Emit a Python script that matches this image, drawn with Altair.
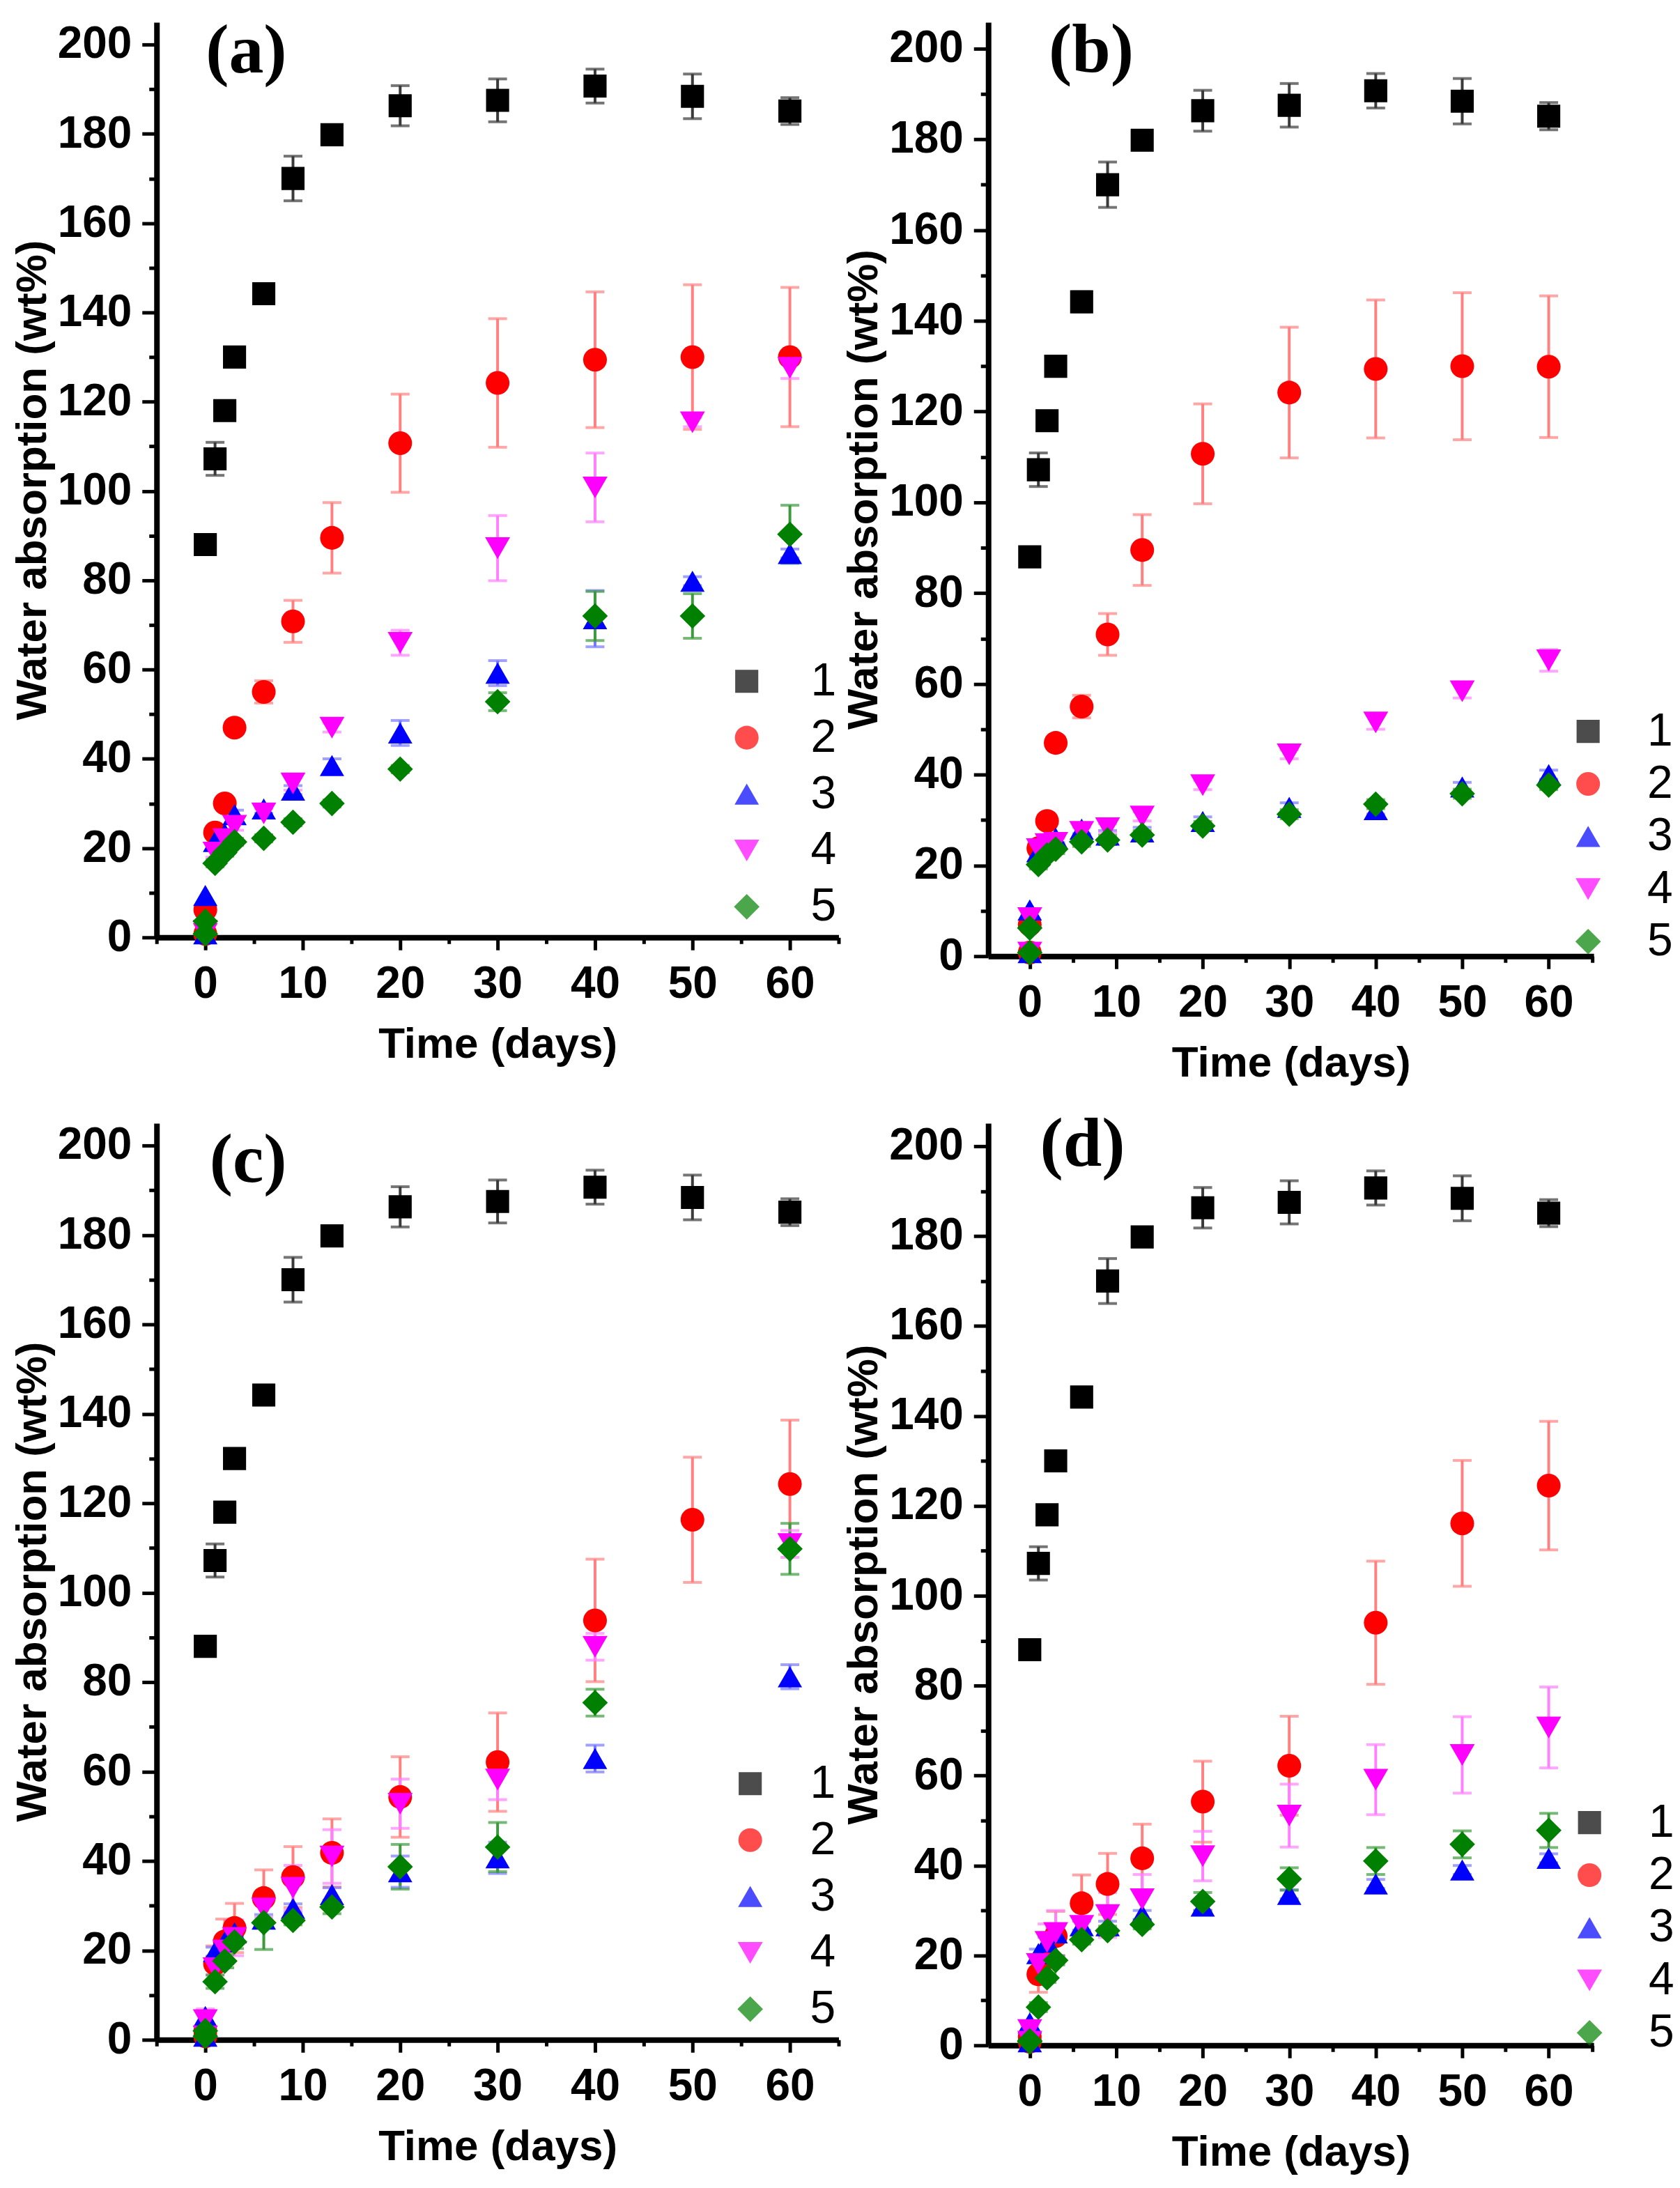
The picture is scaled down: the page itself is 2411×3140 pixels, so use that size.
import altair as alt
import pandas as pd

# ---------------- data ----------------
TIMES = [0, 1, 2, 3, 6, 9, 13, 20, 30, 40, 50, 60]
SERIES = ["1", "2", "3", "4", "5"]
COLORS = ["#000000", "#FF0000", "#0000FF", "#FF00FF", "#008000"]
ERR_COLORS = ["#3A3A3A", "#FF8080", "#7878FF", "#FF80FF", "#3C9A3C"]
SHAPES = ["square", "circle", "triangle-up", "triangle-down", "diamond"]
SIZES = [1100, 1350, 1850, 1850, 2000]

X_MAJOR = [0, 10, 20, 30, 40, 50, 60]
Y_MAJOR = [0, 20, 40, 60, 80, 100, 120, 140, 160, 180, 200]
Y_MINOR = [10, 30, 50, 70, 90, 110, 130, 150, 170, 190]

# series 1 (same in every panel)
S1 = [88, 107.2, 118, 130, 144.2, 170, 179.8, 186.3, 187.5, 190.7, 188.4, 185.1]
S1_ERR = [0, 3.7, 0.8, 0.8, 2.2, 5, 0.8, 4.5, 4.8, 3.8, 5, 3]

# second reading at day 0 for series 2-5
ZERO2 = [0.8, 0.8, 0.8, 0.8]

# panel (a)
A2 = [6.2, 23.5, 30, 47, 55, 70.8, 89.5, 110.7, 124.2, 129.4, 130, 130]
A2_ERR = [0, 1, 1, 1, 2.5, 4.7, 7.9, 11, 14.4, 15.2, 16.2, 15.6]
A3 = [9.4, 21.5, 23.2, 27.5, 28.8, 33, 38.5, 45.8, 59.2, 71.4, 79.8, 86]
A3_ERR = [0, 1, 1, 1, 1, 1, 1.5, 2.8, 2.8, 6.3, 1, 1]
A4 = [1.5, 19, 22, 25, 27.8, 34.5, 47, 66, 87.2, 100.8, 115.4, 127.6]
A4_ERR = [0, 1, 1, 1, 1, 1.5, 1, 2.8, 7.3, 7.7, 1, 2.4]
A5 = [3.6, 16.6, 19, 21.4, 22.2, 25.8, 30, 37.7, 52.8, 72, 72, 90.3]
A5_ERR = [0, 0.8, 0.8, 0.8, 0.8, 0.8, 0.8, 0.8, 2, 5.5, 5, 6.5]

# panel (b)
B2 = [7, 23.8, 29.8, 47, 55, 70.9, 89.5, 110.7, 124.2, 129.4, 130, 129.9]
B2_ERR = [0, 1, 1, 1, 2.5, 4.6, 7.8, 11, 14.4, 15.2, 16.2, 15.6]
B3 = [10.2, 23, 24, 26, 28, 26.7, 27.4, 29.7, 32.8, 32.3, 37.3, 40]
B3_ERR = [0, 1, 1, 1, 1, 1, 1, 1, 1, 1, 1, 1]
B4 = [8.4, 23.6, 24.7, 25, 27.4, 28.2, 30.8, 37.7, 44.5, 51.5, 58.4, 65.2]
B4_ERR = [0, 1, 1, 1, 1, 1, 1, 1, 1, 1.5, 1.5, 2.4]
B5 = [6.2, 20.2, 22.3, 23.6, 25.2, 25.6, 26.7, 28.7, 31.3, 33.5, 35.8, 37.7]
B5_ERR = [0, 1, 1, 1, 1, 1, 1, 1, 1, 1, 1, 1]

# panel (c)
C2 = [2, 17, 22, 25, 31.7, 36.4, 41.8, 54.3, 62.1, 93.8, 116.3, 124.3]
C2_ERR = [0, 4, 5, 5.5, 6.3, 6.8, 7.6, 9, 11, 13.7, 14, 14.3]
C3 = [5.2, 19.7, 21.9, 23.9, 27, 29.4, 32.5, 37.6, 40.7, 62.9, None, 81.2]
C3_ERR = [0, 1, 1, 1, 1, 1, 1.5, 3.5, 3.5, 3, 0, 2.7]
C4 = [4.4, 16, 20, 22.8, 29.4, 34, 41, 52.8, 58.2, 87.9, None, 110.9]
C4_ERR = [2.5, 1.5, 2, 4, 2, 5, 6, 5.5, 4.5, 3, 0, 3]
C5 = [2, 13, 17.6, 21.9, 26.2, 26.7, 29.7, 38.7, 43.1, 75.4, None, 109.8]
C5_ERR = [0, 1.5, 1.5, 1.5, 6, 1, 1.5, 5, 5.5, 3, 0, 5.7]

# panel (d)
D2 = [1.9, 15.8, 19.5, 24.3, 31.6, 35.9, 41.6, 54.2, 62.2, 94, 116.1, 124.5]
D2_ERR = [0, 4, 5, 5.5, 6.3, 6.8, 7.6, 9, 11, 13.7, 14, 14.3]
D3 = [5, 20.4, 23, 25, 26.6, 26.6, 29, 31, 33.6, 35.9, 39, 41.6]
D3_ERR = [0, 1, 1, 1, 1, 1, 1, 1, 1, 1, 1, 1]
D4 = [3.4, 18.1, 23, 25, 26.6, 29, 32.5, 42.1, 51.1, 59.1, 64.6, 70.7]
D4_ERR = [1, 1.5, 4, 5, 2, 5, 5.5, 5.5, 7, 7.8, 8.5, 9]
D5 = [1, 8.5, 15, 18.9, 23.5, 25.5, 26.9, 32, 37, 41, 44.7, 47.8]
D5_ERR = [0, 1, 1, 1, 1, 1, 1, 2, 2.5, 3, 3, 3.8]

FONT = "Liberation Sans"


def panel(vals, errs, label, lab_t, lab_v, xdom, ytop, xminor, w, h, lx, ly, rowpad, laboff):
    rows, caps = [], []
    for k, (sv, se) in enumerate(zip(vals, errs)):
        for t, v, e in zip(TIMES, sv, se):
            if v is None:
                continue
            rows.append(dict(t=t, v=v, lo=v - e, hi=v + e, series=SERIES[k],
                             ecolor=ERR_COLORS[k], k=k))
            if e > 0:
                caps.append(dict(t=t, v=v - e, ecolor=ERR_COLORS[k]))
                caps.append(dict(t=t, v=v + e, ecolor=ERR_COLORS[k]))
        if k > 0:
            z = ZERO2[k - 1]
            rows.append(dict(t=0, v=z, lo=z, hi=z, series=SERIES[k],
                             ecolor=ERR_COLORS[k], k=k))
    df = pd.DataFrame(rows).sort_values("k", kind="stable")
    dcaps = pd.DataFrame(caps)
    dlab = pd.DataFrame([dict(t=lab_t, v=lab_v, label=label)])

    xs = alt.Scale(domain=xdom, nice=False, zero=False, padding=0)
    ys = alt.Scale(domain=[0, ytop], nice=False, zero=False, padding=0)

    leg = alt.Legend(orient="none", legendX=lx, legendY=ly, title=None,
                     labelFontSize=66, labelFont=FONT, labelFontWeight="normal",
                     labelColor="black", symbolSize=1600, labelOffset=laboff,
                     rowPadding=rowpad, symbolStrokeWidth=0, padding=0,
                     symbolOpacity=1)

    minor = alt.Chart(df).mark_point(opacity=0).encode(
        x=alt.X("t:Q", scale=xs, axis=alt.Axis(values=xminor, tickSize=9, labels=False,
                                                domain=False, title=None, orient="bottom",
                                                grid=False)),
        y=alt.Y("v:Q", scale=ys, axis=alt.Axis(values=Y_MINOR, tickSize=11, labels=False,
                                                domain=False, title=None, orient="left",
                                                grid=False)),
    )
    rules = alt.Chart(df).mark_rule(strokeWidth=4).encode(
        x=alt.X("t:Q", scale=xs, axis=None),
        y=alt.Y("lo:Q", scale=ys, axis=None),
        y2="hi:Q",
        color=alt.Color("ecolor:N", scale=None),
    )
    capm = alt.Chart(dcaps).mark_tick(orient="horizontal", size=27, thickness=4).encode(
        x=alt.X("t:Q", scale=xs, axis=None),
        y=alt.Y("v:Q", scale=ys, axis=None),
        color=alt.Color("ecolor:N", scale=None),
    )
    pts = alt.Chart(df).mark_point(filled=True, opacity=1, strokeWidth=0).encode(
        x=alt.X("t:Q", scale=xs,
                axis=alt.Axis(values=X_MAJOR, tickSize=18, title="Time (days)", orient="bottom",
                              labelPadding=17, titlePadding=24, format="d", grid=False)),
        y=alt.Y("v:Q", scale=ys,
                axis=alt.Axis(values=Y_MAJOR, tickSize=21, title="Water absorption (wt%)",
                              orient="left", labelPadding=15, titlePadding=4, format="d",
                              grid=False)),
        color=alt.Color("series:N", scale=alt.Scale(domain=SERIES, range=COLORS), legend=leg),
        shape=alt.Shape("series:N", scale=alt.Scale(domain=SERIES, range=SHAPES), legend=leg),
        size=alt.Size("series:N", scale=alt.Scale(domain=SERIES, range=SIZES), legend=None),
    )
    lab = alt.Chart(dlab).mark_text(font="Liberation Serif", fontWeight="bold", fontSize=100,
                                    align="center", baseline="middle", color="black").encode(
        x=alt.X("t:Q", scale=xs, axis=None),
        y=alt.Y("v:Q", scale=ys, axis=None),
        text="label:N",
    )
    return alt.layer(minor, rules, capm, pts, lab).resolve_axis(
        x="independent", y="independent").properties(width=w, height=h)


XMIN_A = [-5, 5, 15, 25, 35, 45, 55, 65]
XMIN_B = [5, 15, 25, 35, 45, 55, 65]

pa = panel([S1, A2, A3, A4, A5], [S1_ERR, A2_ERR, A3_ERR, A4_ERR, A5_ERR], "(a)", 4.2, 198.4,
           [-5, 65], 205, XMIN_A, 980, 1315, 815, 914, 15, 59)
pb = panel([S1, B2, B3, B4, B5], [S1_ERR, B2_ERR, B3_ERR, B4_ERR, B5_ERR], "(b)", 7.1, 199.5,
           [-4.8, 65.2], 205.8, XMIN_B, 870, 1342, 829, 986, 9.5, 52)
pc = panel([S1, C2, C3, C4, C5], [S1_ERR, C2_ERR, C3_ERR, C4_ERR, C5_ERR], "(c)", 4.4, 196.6,
           [-5, 65], 205, XMIN_A, 980, 1317, 820, 916, 15, 53)
pd_ = panel([S1, D2, D3, D4, D5], [S1_ERR, D2_ERR, D3_ERR, D4_ERR, D5_ERR], "(d)", 6.1, 200.3,
            [-4.8, 65.2], 205.1, XMIN_B, 870, 1325, 831, 972, 9.5, 52)

IND = dict(color="independent", shape="independent", size="independent")
top = alt.hconcat(pa, pb, spacing=2).resolve_scale(**IND)
bottom = alt.hconcat(pc, pd_, spacing=2).resolve_scale(**IND)

chart = alt.vconcat(top, bottom, spacing=37).resolve_scale(**IND).properties(
    padding={"left": 7, "top": 13, "right": 0, "bottom": 0}
).configure_view(stroke=None).configure_axis(
    domainColor="black", domainWidth=8, tickColor="black", tickWidth=5,
    labelFont=FONT, labelFontWeight="bold", labelFontSize=64, labelColor="black",
    titleFont=FONT, titleFontWeight="bold", titleFontSize=62, titleColor="black",
)

chart.save("out.html", embed_options={"renderer": "svg", "actions": False})
